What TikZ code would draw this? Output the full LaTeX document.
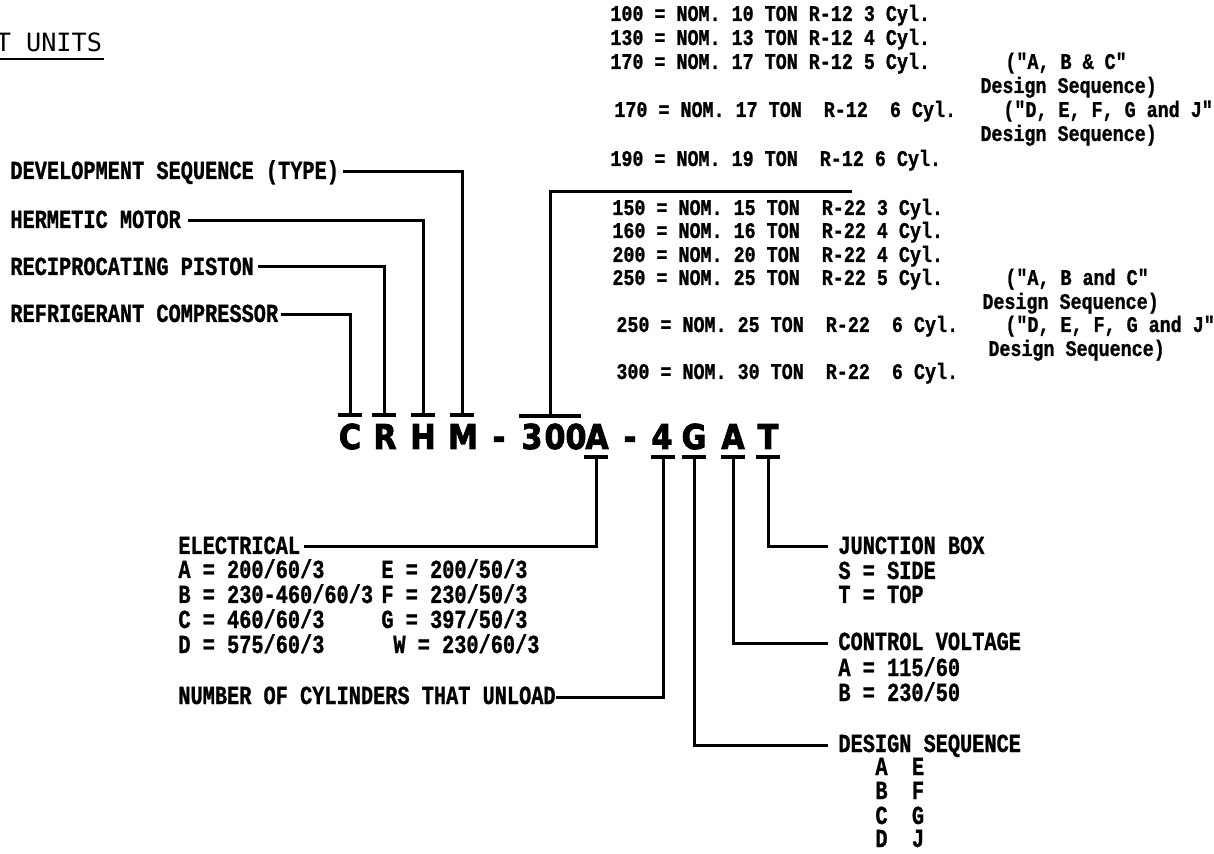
\documentclass[tikz,border=0pt]{standalone}
\usepackage{fontspec}
\newfontfamily\twfont{Liberation Mono Bold}[FakeStretch=0.78,FakeBold=1]
\newfontfamily\tabfont{Liberation Mono Bold}[FakeStretch=0.82,FakeBold=1]
\newfontfamily\bigfont{DejaVu Sans Bold}[FakeStretch=0.88,FakeBold=2.5]
\newfontfamily\titlefont{DejaVu Sans Mono}
\begin{document}
\begin{tikzpicture}[x=0.5pt,y=-0.5pt,
  lab/.style={anchor=base west, inner sep=0pt, font=\twfont\fontsize{13}{15}\selectfont},
  tab/.style={anchor=base west, inner sep=0pt, font=\tabfont\fontsize{11.2}{13}\selectfont},
  letter/.style={anchor=base, inner sep=0pt, font=\bigfont\fontsize{17.1}{20}\selectfont},
  conn/.style={line width=1.5pt},
  tick/.style={line width=2.2pt}]
\useasboundingbox (0,0) rectangle (1214,854);
\clip (0,0) rectangle (1214,854);

% title
\node[anchor=base west, inner sep=0pt, font=\titlefont\fontsize{12.6}{15}\selectfont] (title) at (-4.6,52) {T UNITS};
\draw[line width=1.3pt] (title.south west |- 0,59) -- (104,59);

% left labels
\node[lab] (dev) at (10,179) {DEVELOPMENT SEQUENCE (TYPE)};
\node[lab] (herm) at (10,228) {HERMETIC MOTOR};
\node[lab] (recip) at (10,275) {RECIPROCATING PISTON};
\node[lab] (refr) at (10,322) {REFRIGERANT COMPRESSOR};

% model code letters
\foreach \n/\x/\t in {lC/350/C, lR/385/R, lH/423/H, lM/463/M, d1/499/-, n3/532/3, n0a/555/0, n0b/576/0, lA/597/A, d2/630/-, l4/662/4, lG/694/G, lA2/733/A, lT/768/T}
  \node[letter] (\n) at (\x,449) {\t};

% top ticks
\foreach \n/\x in {C/350,R/384,H/423,M/462}{
  \coordinate (t\n) at (\x,415);
  \draw[tick] ([xshift=-6pt]t\n) -- ([xshift=6pt]t\n);
}
\coordinate (t300) at (550,416);
\draw[tick] (519,416) -- (581,416);

% bottom ticks
\foreach \n/\x in {A/596,F/663,G/694,V/733,T/768}{
  \coordinate (b\n) at (\x,457);
  \draw[tick] ([xshift=-6pt]b\n) -- ([xshift=6pt]b\n);
}

% connectors from left labels
\coordinate (devE) at (343,172);
\coordinate (hermE) at (188,221);
\coordinate (recipE) at (258,267);
\coordinate (refrE) at (281,315);
\draw[conn] (devE) -| (tM);
\draw[conn] (hermE) -| (tH);
\draw[conn] (recipE) -| (tR);
\draw[conn] (refrE) -| (tC);

% capacity table
\coordinate (capE) at (852,192);
\draw[conn] (capE) -| (t300);

\node[tab] (r100) at (610,21) {100 = NOM. 10 TON R-12 3 Cyl.};
\node[tab] (r130) at (610,45) {130 = NOM. 13 TON R-12 4 Cyl.};
\node[tab] (r170) at (610,69) {170 = NOM. 17 TON R-12 5 Cyl.};
\node[tab] (p170) at (1005,69) {("A, B \& C"};
\node[tab] (s170) at (980,93) {Design Sequence)};
\node[tab] (r170b) at (614,117) {170 = NOM. 17 TON~ R-12~ 6 Cyl.};
\node[tab] (p170b) at (1003,117) {("D, E, F, G and J"};
\node[tab] (s170b) at (980,141) {Design Sequence)};
\node[tab] (r190) at (610,166) {190 = NOM. 19 TON~ R-12 6 Cyl.};

\node[tab] (r150) at (612,215) {150 = NOM. 15 TON~ R-22 3 Cyl.};
\node[tab] (r160) at (612,238) {160 = NOM. 16 TON~ R-22 4 Cyl.};
\node[tab] (r200) at (612,262) {200 = NOM. 20 TON~ R-22 4 Cyl.};
\node[tab] (r250) at (612,285) {250 = NOM. 25 TON~ R-22 5 Cyl.};
\node[tab] (p250) at (1005,285) {("A, B and C"};
\node[tab] (s250) at (982,309) {Design Sequence)};
\node[tab] (r250b) at (616,332) {250 = NOM. 25 TON~ R-22~ 6 Cyl.};
\node[tab] (p250b) at (1005,332) {("D, E, F, G and J"};
\node[tab] (s250b) at (988,356) {Design Sequence)};
\node[tab] (r300) at (616,379) {300 = NOM. 30 TON~ R-22~ 6 Cyl.};

% electrical
\node[lab] (elec) at (178,554) {ELECTRICAL};
\node[lab] (eA) at (178,578) {A = 200/60/3};
\node[lab] (eB) at (178,603) {B = 230-460/60/3};
\node[lab] (eC) at (178,628) {C = 460/60/3};
\node[lab] (eD) at (178,653) {D = 575/60/3};
\node[lab] (eE) at (381,578) {E = 200/50/3};
\node[lab] (eF) at (381,603) {F = 230/50/3};
\node[lab] (eG) at (381,628) {G = 397/50/3};
\node[lab] (eW) at (393,653) {W = 230/60/3};
\node[lab] (unl) at (178,704) {NUMBER OF CYLINDERS THAT UNLOAD};

\coordinate (elecE) at (304,547);
\coordinate (unlE) at (556,697);
\draw[conn] (bA) |- (elecE);
\draw[conn] (bF) |- (unlE);

% right side
\node[lab] (jb) at (838,554) {JUNCTION BOX};
\node[lab] (jbS) at (838,579) {S = SIDE};
\node[lab] (jbT) at (838,603) {T = TOP};
\node[lab] (cv) at (838,650) {CONTROL VOLTAGE};
\node[lab] (cvA) at (838,676) {A = 115/60};
\node[lab] (cvB) at (838,701) {B = 230/50};
\node[lab] (ds) at (838,752) {DESIGN SEQUENCE};
\node[lab] (dsA) at (875,775) {A~~E};
\node[lab] (dsB) at (875,799) {B~~F};
\node[lab] (dsC) at (875,824) {C~~G};
\node[lab] (dsD) at (875,847) {D~~J};

\coordinate (jbW) at (828,547);
\coordinate (cvW) at (828,643);
\coordinate (dsW) at (828,745);
\draw[conn] (bT) |- (jbW);
\draw[conn] (bV) |- (cvW);
\draw[conn] (bG) |- (dsW);
\end{tikzpicture}
\end{document}
